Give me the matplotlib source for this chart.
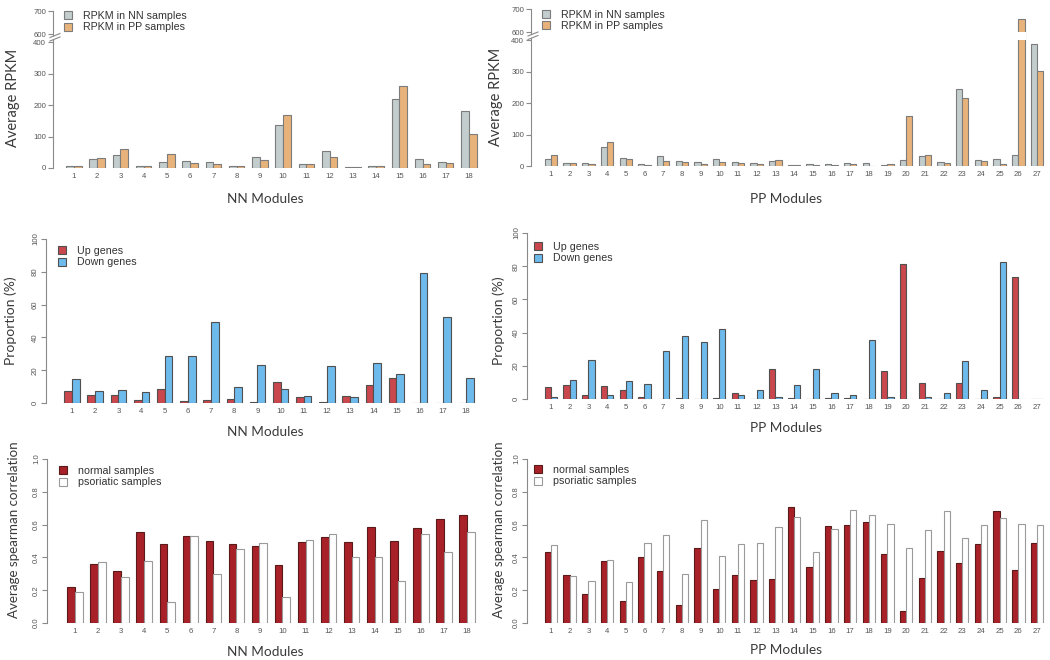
import numpy as np
import matplotlib
matplotlib.use("Agg")
import matplotlib.pyplot as plt
from matplotlib.patches import Patch, Rectangle, Polygon
from matplotlib.lines import Line2D

# ---------------- data ----------------
nn_modules = [str(i) for i in range(1, 19)]
pp_modules = [str(i) for i in range(1, 28)]

# Row 1: average RPKM
nn_rpkm_nn = [7, 30, 41, 6, 20, 21, 20, 7, 36, 136, 12, 53, 4, 7, 220, 30, 20, 182]
nn_rpkm_pp = [7, 31, 59, 5, 46, 15, 12, 7, 25, 168, 12, 36, 4, 7, 261, 14, 15, 108]
pp_rpkm_nn = [25, 10, 12, 62, 27, 7, 32, 19, 13, 23, 13, 10, 19, 6, 8, 7, 10, 12, 5, 20,
              32, 13, 246, 21, 23, 37, 389]
pp_rpkm_pp = [36, 10, 9, 77, 23, 5, 19, 13, 7, 15, 12, 9, 20, 5, 4, 5, 9, 3, 7, 160,
              36, 10, 217, 16, 8, 660, 304]

# Row 2: proportion (%) of up / down genes
nn_up = [7.1, 5.1, 5.1, 2.0, 8.7, 1.4, 1.6, 2.4, 0.8, 12.6, 3.7, 0.4, 4.1, 10.8, 15.4, 0, 0, 0]
nn_down = [14.6, 7.5, 8.1, 6.5, 28.9, 28.5, 49.2, 9.8, 23.0, 8.5, 4.3, 22.8, 3.5, 24.2, 17.9,
           79.5, 52.5, 15.4]
pp_up = [7.2, 8.6, 2.6, 7.8, 5.2, 1.4, 0, 0.6, 0, 0.6, 3.8, 0, 17.9, 0.6, 0.3, 0.8, 0.6, 0,
         16.9, 81.5, 9.8, 0, 9.4, 0, 1.2, 73.7, 0]
pp_down = [1.2, 11.6, 23.7, 2.2, 11.0, 9.2, 28.9, 38.2, 34.5, 42.4, 2.2, 5.4, 1.2, 8.2, 18.1,
           3.8, 2.2, 35.5, 1.0, 0, 1.0, 3.8, 22.7, 5.2, 82.7, 0, 0]

# Row 3: average spearman correlation
nn_corr_normal = [0.22, 0.36, 0.32, 0.555, 0.48, 0.53, 0.50, 0.48, 0.47, 0.356, 0.496, 0.522,
                  0.492, 0.583, 0.50, 0.58, 0.636, 0.656]
nn_corr_psoriatic = [0.19, 0.37, 0.28, 0.38, 0.13, 0.53, 0.30, 0.45, 0.49, 0.157, 0.504, 0.54,
                     0.40, 0.40, 0.254, 0.543, 0.433, 0.555]
pp_corr_normal = [0.433, 0.29, 0.177, 0.38, 0.134, 0.40, 0.317, 0.11, 0.46, 0.207, 0.295, 0.264,
                  0.268, 0.71, 0.343, 0.593, 0.60, 0.616, 0.423, 0.073, 0.274, 0.439, 0.364,
                  0.484, 0.685, 0.323, 0.486]
pp_corr_psoriatic = [0.478, 0.285, 0.258, 0.385, 0.248, 0.49, 0.539, 0.297, 0.63, 0.406, 0.48,
                     0.488, 0.583, 0.648, 0.435, 0.571, 0.689, 0.66, 0.604, 0.457, 0.569, 0.681,
                     0.52, 0.596, 0.64, 0.604, 0.60]

# ---------------- style ----------------
W, H = 1050, 660
fig = plt.figure(figsize=(W / 100, H / 100), dpi=100)
fig.patch.set_facecolor("white")

TICK_FONT = "Liberation Sans"
LABEL_FONT = "Lato"
TICK_COLOR = "#555555"
AXIS_COLOR = "#8a8a8a"
LABEL_COLOR = "#3a3a3a"

C_NN, C_PP = "#c3cdcd", "#e8b37b"
C_UP, C_DOWN = "#c9474d", "#6dbaec"
C_NORMAL, C_PSO = "#a82128", "#ffffff"

# broken axis (400 .. 600) for the RPKM panels
LOW, HIGH, GAPW, K = 400.0, 600.0, 25.0, 0.73


def fwd(y):
    y = np.asarray(y, float)
    return np.where(y <= LOW, y,
                    np.where(y >= HIGH, LOW + GAPW + (y - HIGH) * K,
                             LOW + (y - LOW) * GAPW / (HIGH - LOW)))


def inv(u):
    u = np.asarray(u, float)
    return np.where(u <= LOW, u,
                    np.where(u >= LOW + GAPW, HIGH + (u - LOW - GAPW) / K,
                             LOW + (u - LOW) * (HIGH - LOW) / GAPW))


def make_panel(axis_px, unit0_px, ppu, y0_px, ytop_px, right_px):
    ax = fig.add_axes([axis_px / W, 1 - y0_px / H,
                       (right_px - axis_px) / W, (y0_px - ytop_px) / H])
    ax.set_xlim((axis_px - unit0_px) / ppu, (right_px - unit0_px) / ppu)
    ax.patch.set_alpha(0)
    for s in ["top", "right", "bottom"]:
        ax.spines[s].set_visible(False)
    ax.spines["left"].set_color(AXIS_COLOR)
    ax.spines["left"].set_linewidth(0.8)
    ax.tick_params(axis="y", direction="out", length=3.8, width=0.8, colors=AXIS_COLOR,
                   labelcolor=TICK_COLOR, labelsize=5.6, pad=1.2)
    ax.tick_params(axis="x", length=0, labelsize=5.6, labelcolor=TICK_COLOR, pad=3.4)
    return ax


def grouped(ax, a, b, names, ca, cb, ea, eb, lw=0.8):
    g = np.arange(1, len(a) + 1)
    ax.bar(3 * g - 2, a, width=1.0, align="edge", color=ca, edgecolor=ea, linewidth=lw)
    ax.bar(3 * g - 1, b, width=1.0, align="edge", color=cb, edgecolor=eb, linewidth=lw)
    ax.set_xticks(3 * g - 1)
    ax.set_xticklabels(names, fontfamily=TICK_FONT)


def legend(ax, handles, labels, x_px, y_px):
    ax.legend(handles, labels, loc="upper left",
              bbox_to_anchor=(x_px / W, 1 - y_px / H), bbox_transform=fig.transFigure,
              frameon=False, borderpad=0, borderaxespad=0,
              handlelength=0.78, handleheight=0.78, handletextpad=0.95,
              labelspacing=0.14, prop={"family": TICK_FONT, "size": 7.7},
              labelcolor="#333333")


def xlabel(ax, text, cx_px, cy_px, axis_px, right_px, y0_px, ytop_px, size=9.8):
    ax.set_xlabel(text, fontfamily=LABEL_FONT, fontsize=size, color=LABEL_COLOR, va="center")
    ax.xaxis.set_label_coords((cx_px - axis_px) / (right_px - axis_px),
                              -(cy_px - y0_px) / (y0_px - ytop_px))


def ylabel(ax, text, cx_px, cy_px, axis_px, right_px, y0_px, ytop_px, size=10.5):
    ax.set_ylabel(text, fontfamily=LABEL_FONT, fontsize=size, color=LABEL_COLOR, va="center")
    ax.yaxis.set_label_coords(-(axis_px - cx_px) / (right_px - axis_px),
                              (y0_px - cy_px) / (y0_px - ytop_px))


def break_mark(axis_px, y_px):
    # white gap and two slashes on the y axis
    poly = Polygon([((axis_px - 3) / W, 1 - (y_px + 3.5) / H), ((axis_px + 7) / W, 1 - (y_px - 0.5) / H),
                    ((axis_px + 7) / W, 1 - (y_px - 3.5) / H), ((axis_px - 3) / W, 1 - (y_px + 0.5) / H)],
                   closed=True, transform=fig.transFigure, facecolor="white", edgecolor="none",
                   zorder=5)
    fig.add_artist(poly)
    for dy in (0.5, -3.0):
        fig.add_artist(Line2D([(axis_px - 3) / W, (axis_px + 7) / W],
                              [1 - (y_px + 3 + dy) / H, 1 - (y_px - 1 + dy) / H],
                              transform=fig.transFigure, color=AXIS_COLOR, lw=0.8, zorder=6))


rpkm_ticks = [0, 100, 200, 300, 400, 600, 700]
ed_top = "#7c7c7c"
ed_mid = "#505050"

# ---------------- Row 1 ----------------
# top-left
a_px, u0, ppu, y0, yt, rp = 53, 58.5, 7.745, 168, 11.4, 500
ax = make_panel(a_px, u0, ppu, y0, yt, rp)
ax.set_yscale("function", functions=(fwd, inv))
ax.set_ylim(0, 700)
grouped(ax, nn_rpkm_nn, nn_rpkm_pp, nn_modules, C_NN, C_PP, ed_top, ed_top)
ax.set_yticks(rpkm_ticks)
ax.set_yticklabels([str(t) for t in rpkm_ticks], fontfamily=TICK_FONT)
ax.yaxis.set_minor_locator(matplotlib.ticker.NullLocator())
ax.spines["left"].set_bounds(0, 700)
xlabel(ax, "NN Modules", 265, 199, a_px, rp, y0, yt)
ylabel(ax, "Average RPKM", 13, 98, a_px, rp, y0, yt)
legend(ax, [Patch(facecolor=C_NN, edgecolor=ed_top, lw=0.8), Patch(facecolor=C_PP, edgecolor=ed_top, lw=0.8)],
       ["RPKM in NN samples", "RPKM in PP samples"], 64, 11)
break_mark(a_px, 37.5)

# top-right
a_px, u0, ppu, y0, yt, rp = 531, 538.5, 6.231, 166.5, 9.4, 1049
ax = make_panel(a_px, u0, ppu, y0, yt, rp)
ax.set_yscale("function", functions=(fwd, inv))
ax.set_ylim(0, 700)
grouped(ax, pp_rpkm_nn, pp_rpkm_pp, pp_modules, C_NN, C_PP, ed_top, ed_top)
ax.set_yticks(rpkm_ticks)
ax.set_yticklabels([str(t) for t in rpkm_ticks], fontfamily=TICK_FONT)
ax.yaxis.set_minor_locator(matplotlib.ticker.NullLocator())
ax.spines["left"].set_bounds(0, 700)
# gap drawn across the bar that exceeds the break
for i, v in enumerate(pp_rpkm_pp):
    if v > HIGH:
        gx = 3 * (i + 1) - 1
        ax.add_patch(Rectangle((gx - 0.3, 412), 1.6, 188, facecolor="white",
                               edgecolor="none", zorder=4))
xlabel(ax, "PP Modules", 786, 199, a_px, rp, y0, yt)
ylabel(ax, "Average RPKM", 496, 97, a_px, rp, y0, yt)
legend(ax, [Patch(facecolor=C_NN, edgecolor=ed_top, lw=0.8), Patch(facecolor=C_PP, edgecolor=ed_top, lw=0.8)],
       ["RPKM in NN samples", "RPKM in PP samples"], 542, 9.5)
break_mark(a_px, 36)

# ---------------- Row 2 ----------------
prop_ticks = [0, 20, 40, 60, 80, 100]
a_px, u0, ppu, y0, yt, rp = 46, 56.55, 7.725, 403, 239, 500
ax = make_panel(a_px, u0, ppu, y0, yt, rp)
ax.set_ylim(0, 100)
grouped(ax, nn_up, nn_down, nn_modules, C_UP, C_DOWN, ed_mid, ed_mid)
ax.set_yticks(prop_ticks)
ax.set_yticklabels([str(t) for t in prop_ticks], fontfamily=TICK_FONT, rotation=90, va="center")
ax.spines["left"].set_bounds(0, 100)
xlabel(ax, "NN Modules", 265, 432, a_px, rp, y0, yt)
ylabel(ax, "Proportion (%)", 11, 321, a_px, rp, y0, yt, size=10.0)
legend(ax, [Patch(facecolor=C_UP, edgecolor=ed_mid, lw=0.8), Patch(facecolor=C_DOWN, edgecolor=ed_mid, lw=0.8)],
       ["Up genes", "Down genes"], 58, 246)

a_px, u0, ppu, y0, yt, rp = 527, 538.5, 6.231, 399, 233, 1049
ax = make_panel(a_px, u0, ppu, y0, yt, rp)
ax.set_ylim(0, 100)
grouped(ax, pp_up, pp_down, pp_modules, C_UP, C_DOWN, ed_mid, ed_mid)
ax.set_yticks(prop_ticks)
ax.set_yticklabels([str(t) for t in prop_ticks], fontfamily=TICK_FONT, rotation=90, va="center")
ax.spines["left"].set_bounds(0, 100)
xlabel(ax, "PP Modules", 786, 428, a_px, rp, y0, yt)
ylabel(ax, "Proportion (%)", 499, 321, a_px, rp, y0, yt, size=10.0)
legend(ax, [Patch(facecolor=C_UP, edgecolor=ed_mid, lw=0.8), Patch(facecolor=C_DOWN, edgecolor=ed_mid, lw=0.8)],
       ["Up genes", "Down genes"], 534, 242)

# ---------------- Row 3 ----------------
corr_ticks = [0.0, 0.2, 0.4, 0.6, 0.8, 1.0]
ed_n, ed_p = "#5a1a1a", "#9a9a9a"
a_px, u0, ppu, y0, yt, rp = 47, 59.6, 7.686, 623, 459, 500
ax = make_panel(a_px, u0, ppu, y0, yt, rp)
ax.set_ylim(0, 1)
grouped(ax, nn_corr_normal, nn_corr_psoriatic, nn_modules, C_NORMAL, C_PSO, ed_n, ed_p)
ax.set_yticks(corr_ticks)
ax.set_yticklabels([f"{t:.1f}" for t in corr_ticks], fontfamily=TICK_FONT, rotation=90, va="center")
ax.spines["left"].set_bounds(0, 1)
xlabel(ax, "NN Modules", 265, 652, a_px, rp, y0, yt)
ylabel(ax, "Average spearman correlation", 14, 530, a_px, rp, y0, yt, size=9.6)
legend(ax, [Patch(facecolor=C_NORMAL, edgecolor=ed_n, lw=0.8), Patch(facecolor=C_PSO, edgecolor=ed_p, lw=0.8)],
       ["normal samples", "psoriatic samples"], 59, 466)

a_px, u0, ppu, y0, yt, rp = 527, 538.5, 6.231, 623, 459, 1049
ax = make_panel(a_px, u0, ppu, y0, yt, rp)
ax.set_ylim(0, 1)
grouped(ax, pp_corr_normal, pp_corr_psoriatic, pp_modules, C_NORMAL, C_PSO, ed_n, ed_p)
ax.set_yticks(corr_ticks)
ax.set_yticklabels([f"{t:.1f}" for t in corr_ticks], fontfamily=TICK_FONT, rotation=90, va="center")
ax.spines["left"].set_bounds(0, 1)
xlabel(ax, "PP Modules", 786, 650, a_px, rp, y0, yt)
ylabel(ax, "Average spearman correlation", 499, 530, a_px, rp, y0, yt, size=9.6)
legend(ax, [Patch(facecolor=C_NORMAL, edgecolor=ed_n, lw=0.8), Patch(facecolor=C_PSO, edgecolor=ed_p, lw=0.8)],
       ["normal samples", "psoriatic samples"], 534, 465)

fig.savefig("out.png", dpi=100, facecolor="white")
